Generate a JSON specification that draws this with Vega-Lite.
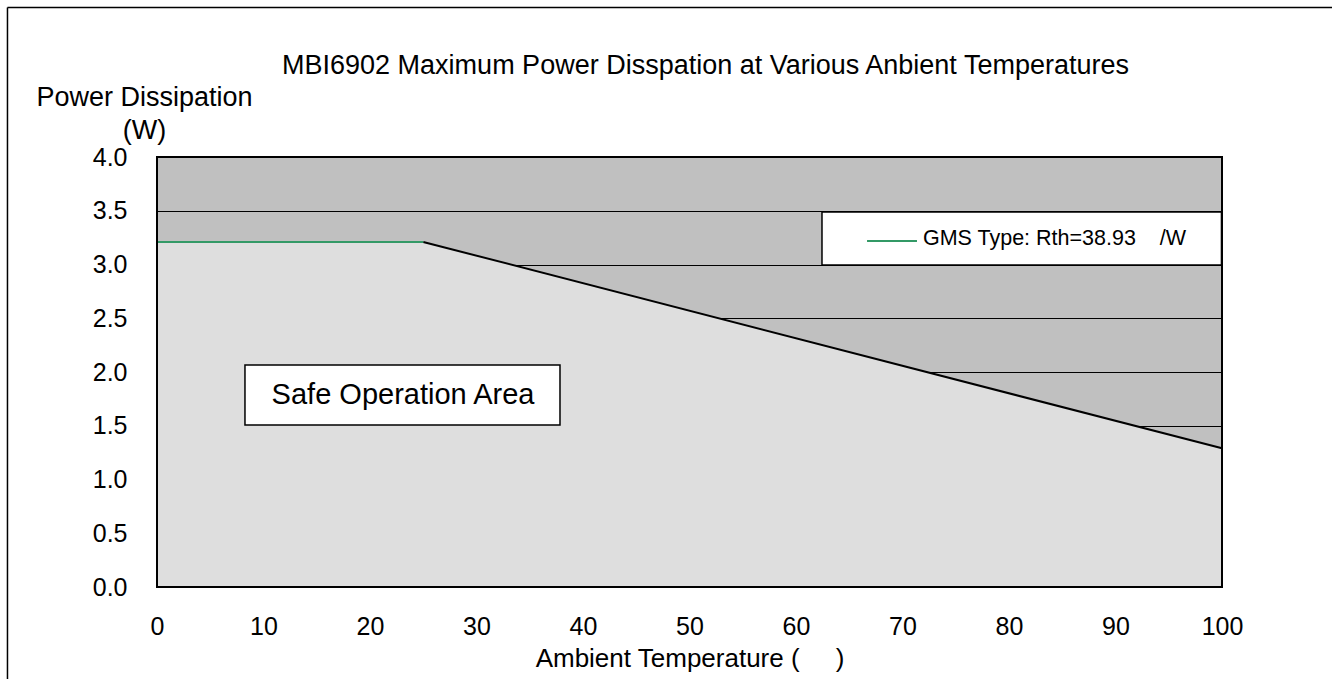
{
  "$schema": "https://vega.github.io/schema/vega-lite/v6.json",
  "width": 1065,
  "height": 430,
  "autosize": {"type": "none"},
  "padding": {"left": 157, "top": 157, "right": 110, "bottom": 92},
  "background": "white",
  "title": {
    "text": "MBI6902 Maximum Power Disspation at Various Anbient Temperatures",
    "font": "Liberation Sans",
    "fontSize": 27,
    "fontWeight": "normal",
    "color": "black",
    "anchor": "middle",
    "frame": "group",
    "baseline": "alphabetic",
    "dx": 16,
    "dy": 94,
    "offset": 0
  },
  "config": {
    "font": "Liberation Sans",
    "view": {"fill": "#c0c0c0", "stroke": "black", "strokeWidth": 2},
    "axis": {
      "domain": false,
      "ticks": false,
      "labelFont": "Liberation Sans",
      "titleFont": "Liberation Sans",
      "labelFontSize": 25,
      "titleFontSize": 26,
      "titleFontWeight": "normal",
      "labelColor": "black",
      "titleColor": "black"
    }
  },
  "datasets": {
    "derating": [
      {"temperature": 0, "power": 3.21, "segment": "GMS Type"},
      {"temperature": 25, "power": 3.21, "segment": "GMS Type"},
      {"temperature": 25, "power": 3.21, "segment": "derating"},
      {"temperature": 100, "power": 1.29, "segment": "derating"}
    ],
    "single": [{}]
  },
  "layer": [
    {
      "data": {"name": "derating"},
      "mark": {"type": "area", "color": "#dedede", "interpolate": "linear"},
      "encoding": {
        "x": {
          "field": "temperature",
          "type": "quantitative",
          "scale": {"domain": [0, 100], "nice": false, "zero": false},
          "axis": {
            "values": [0, 10, 20, 30, 40, 50, 60, 70, 80, 90, 100],
            "grid": false,
            "labelFlush": false,
            "labelOverlap": false,
            "labelPadding": 27,
            "title": "Ambient Temperature (\u00a0\u00a0\u00a0\u00a0\u00a0)",
            "titleBaseline": "alphabetic",
            "titleY": 79
          }
        },
        "y": {
          "field": "power",
          "type": "quantitative",
          "stack": null,
          "scale": {"domain": [0, 4], "nice": false},
          "axis": {
            "values": [0, 0.5, 1, 1.5, 2, 2.5, 3, 3.5, 4],
            "format": ".1f",
            "grid": true,
            "gridColor": "black",
            "gridWidth": 1,
            "gridOpacity": 1,
            "labelPadding": 30,
            "labelOverlap": false,
            "title": ["Power Dissipation", "(W)"],
            "titleAngle": 0,
            "titleAlign": "center",
            "titleBaseline": "alphabetic",
            "titleFontSize": 27,
            "titleX": -13,
            "titleY": -52,
            "titleLineHeight": 33
          }
        }
      }
    },
    {
      "data": {"name": "derating"},
      "transform": [{"filter": "datum.segment === 'derating'"}],
      "mark": {"type": "line", "color": "black", "strokeWidth": 2},
      "encoding": {
        "x": {"field": "temperature", "type": "quantitative"},
        "y": {"field": "power", "type": "quantitative"}
      }
    },
    {
      "data": {"name": "derating"},
      "transform": [{"filter": "datum.segment === 'GMS Type'"}],
      "mark": {"type": "line", "color": "#339966", "strokeWidth": 2},
      "encoding": {
        "x": {"field": "temperature", "type": "quantitative"},
        "y": {"field": "power", "type": "quantitative"}
      }
    },
    {
      "data": {"name": "single"},
      "mark": {"type": "rule", "color": "black", "strokeWidth": 2},
      "encoding": {"x": {"datum": 0}, "y": {"datum": 0}, "y2": {"datum": 4}}
    },
    {
      "data": {"name": "single"},
      "mark": {"type": "rule", "color": "black", "strokeWidth": 2},
      "encoding": {"x": {"datum": 100}, "y": {"datum": 0}, "y2": {"datum": 4}}
    },
    {
      "data": {"name": "single"},
      "mark": {"type": "rule", "color": "black", "strokeWidth": 2},
      "encoding": {"x": {"datum": 0}, "x2": {"datum": 100}, "y": {"datum": 0}}
    },
    {
      "data": {"name": "single"},
      "mark": {"type": "rect", "fill": "white", "stroke": "black", "strokeWidth": 1.5},
      "encoding": {"x": {"datum": 62.44}, "x2": {"datum": 99.95}, "y": {"datum": 3.488}, "y2": {"datum": 2.995}}
    },
    {
      "data": {"name": "single"},
      "mark": {"type": "rule", "color": "#339966", "strokeWidth": 2},
      "encoding": {"x": {"datum": 66.67}, "x2": {"datum": 71.36}, "y": {"datum": 3.219}}
    },
    {
      "data": {"name": "single"},
      "mark": {"type": "text", "font": "Liberation Sans", "fontSize": 21.5, "color": "black", "align": "left", "baseline": "middle"},
      "encoding": {"x": {"datum": 71.92}, "y": {"datum": 3.235}, "text": {"value": "GMS Type: Rth=38.93\u00a0\u00a0\u00a0\u00a0/W"}}
    },
    {
      "data": {"name": "single"},
      "mark": {"type": "rect", "fill": "white", "stroke": "black", "strokeWidth": 1.5},
      "encoding": {"x": {"datum": 8.26}, "x2": {"datum": 37.84}, "y": {"datum": 2.065}, "y2": {"datum": 1.507}}
    },
    {
      "data": {"name": "single"},
      "mark": {"type": "text", "font": "Liberation Sans", "fontSize": 29, "color": "black", "align": "center", "baseline": "middle"},
      "encoding": {"x": {"datum": 23.1}, "y": {"datum": 1.786}, "text": {"value": "Safe Operation Area"}}
    },
    {
      "data": {"name": "single"},
      "mark": {"type": "rule", "color": "black", "strokeWidth": 1.5},
      "encoding": {"x": {"datum": -14.04}, "y": {"datum": 5.391}, "y2": {"datum": -1}}
    },
    {
      "data": {"name": "single"},
      "mark": {"type": "rule", "color": "black", "strokeWidth": 1.5},
      "encoding": {"x": {"datum": -14.04}, "x2": {"datum": 120}, "y": {"datum": 5.391}}
    }
  ]
}
